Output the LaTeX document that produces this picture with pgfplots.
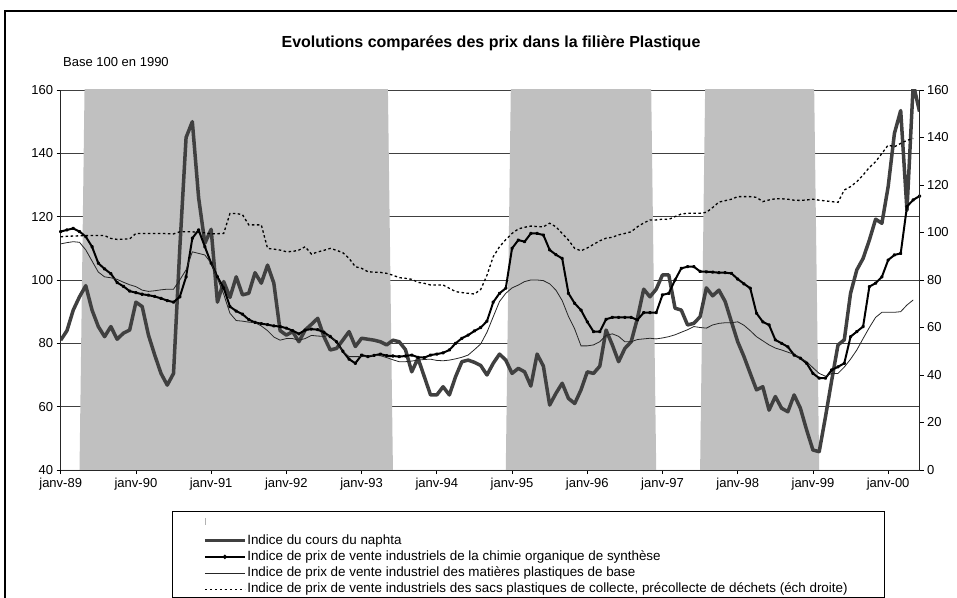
\documentclass[border=0pt]{standalone}
\usepackage{fontspec}
\setmainfont{Liberation Sans}
\usepackage{pgfplots}
\pgfplotsset{compat=1.18}
\usepackage{pgfplotstable}
\definecolor{shade}{HTML}{C0C0C0}
\definecolor{naph}{HTML}{404040}

\pgfplotstableread{
m naph chem plast sacs shade
0 81 115.3 111.4 98.2 0
1 84 115.8 111.8 98.4 0
2 90.5 116.3 112.1 98.5 0
3 94.7 115.3 111.9 98.6 0
4 98.2 113.7 109.5 98.7 200
5 90.5 110.5 106 98.7 200
6 85.3 105.3 102.5 98.7 200
7 82.1 103.5 101 98.7 200
8 85.3 102 100.7 97.5 200
9 81.3 99.2 100.2 97.1 200
10 83.2 98 99.3 97.2 200
11 84.2 96.5 98.5 97.3 200
12 93 96 97.9 99.6 200
13 91.6 95.5 96.8 99.6 200
14 82.6 95.2 96.4 99.6 200
15 76.3 94.8 96.6 99.6 200
16 70.5 94.2 96.9 99.6 200
17 66.8 93.5 97.1 99.5 200
18 70.5 93 97.1 99.4 200
19 110 94.7 100 100.3 200
20 145 101 103.2 100.3 200
21 150 113.2 108.9 100.3 200
22 126 115.8 108.4 100 200
23 111.6 110.5 107.9 99.9 200
24 116 105.3 105.3 99.4 200
25 93 101 100.5 99.5 200
26 99.5 97.5 95.5 99.6 200
27 94.5 91.6 89.5 108 200
28 101 90.2 87.2 108 200
29 95.3 89.2 87 107.5 200
30 95.8 87.5 86.7 103.2 200
31 102.3 86.6 86.5 103.2 200
32 99 86.2 85.5 103.2 200
33 104.7 85.9 84 93.3 200
34 99 85.5 82 93 200
35 84 85.3 81 92.6 200
36 82.6 84.8 81.5 91.9 200
37 83.7 84 81.5 92 200
38 80.5 83 81 92.6 200
39 84.2 84.2 81.5 94 200
40 86 84.5 82.5 90.9 200
41 87.9 84.3 82.3 91.8 200
42 82.1 83.5 82.2 92.5 200
43 77.9 82.1 82.6 93.3 200
44 78.4 80.5 80.2 92.5 200
45 81 77.5 77.5 91.5 200
46 83.7 75 75.8 89.1 200
47 79 73.7 75.8 85.6 200
48 81.6 76.3 75.8 84.9 200
49 81.3 75.8 76 83.5 200
50 81 76.2 76.2 83.3 200
51 80.5 76.6 76.1 83.2 200
52 79.5 76.1 75.5 82.8 200
53 81 76 74.8 82 0
54 80.5 75.8 74.2 81 0
55 78 76 74.2 80.7 0
56 71 76.3 74.4 80.3 0
57 75.3 75.6 74.7 79 0
58 69.5 75.5 74.9 78.6 0
59 63.7 76.3 75 77.9 0
60 63.7 76.6 74.6 77.9 0
61 66.3 77 74.5 77.9 0
62 63.7 77.9 74.7 76.5 0
63 69.5 80 75.1 75.1 0
64 74.2 81.6 75.6 74.7 0
65 74.7 82.6 76.3 74.4 0
66 74 83.9 78 74.1 0
67 73 85 79.8 76 0
68 70 87 83.5 82 0
69 73.7 93 88.4 89.8 0
70 76.6 95.8 93.2 94 0
71 74.7 97.4 95.8 97 0
72 70.5 110 97.5 99.6 200
73 72.1 112.6 98.4 101.5 200
74 71 112.1 99.5 102.2 200
75 66.5 114.7 100 102.7 200
76 76.6 114.7 100 102.5 200
77 72.8 114.2 99.8 102.4 200
78 60.5 109.5 98.8 103.9 200
79 64.2 108 96.8 102.4 200
80 67.4 106.8 93.5 99.6 200
81 62.6 95.8 88.5 96.8 200
82 61 92.6 84.5 93.3 200
83 65.3 90.5 79.2 92.3 200
84 71 86.8 79.2 93.5 200
85 70.5 83.7 79.5 95 200
86 72.8 83.7 80.5 96.5 200
87 84.2 87.6 82.5 97.6 200
88 79.5 88.2 83 98 200
89 74.2 88.2 82.2 99 200
90 78.4 88.2 80.5 99.6 200
91 80.5 88.2 80.5 100.3 200
92 87.9 87.4 81.2 102.4 200
93 97.1 89.7 81.4 104 200
94 94.7 89.7 81.6 105.3 200
95 97.1 89.7 81.4 105.3 0
96 101.6 95.3 81.7 105.6 0
97 101.6 95.8 82.1 105.5 0
98 91.1 100 82.7 106.7 0
99 90.5 103.7 83.5 107.8 0
100 85.8 104.2 84.3 108.1 0
101 86.3 104.2 85.3 108.1 0
102 88.4 102.7 85 108.1 0
103 97.5 102.6 84.8 108.5 200
104 95 102.5 85.8 110.5 200
105 96.8 102.3 86.3 112.8 200
106 93.2 102.3 86.5 113.4 200
107 86.8 102.1 86.5 114 200
108 80.5 100.3 86.8 115.1 200
109 75.8 98.8 85.7 115.1 200
110 70.5 97.4 84 115.1 200
111 65.3 89.5 82.1 114.8 200
112 66.3 86.8 80.8 113 200
113 58.9 85.8 79.5 113.7 200
114 63.2 81.1 78.5 114.2 200
115 59.5 80 77.9 114.2 200
116 58.4 78.9 77.2 114 200
117 63.7 76.3 76.5 113.6 200
118 59.5 75.3 75.4 113.5 200
119 52.6 73.7 74.2 113.7 200
120 46.3 70.5 72.3 114 200
121 45.8 69 70.5 113.6 0
122 56.8 69 69.6 113.3 0
123 68.4 71.6 70.5 113 0
124 79.5 72.6 70.5 112.7 0
125 81.1 73.7 72.5 117.9 0
126 95.8 82.1 75 119.3 0
127 103.2 83.7 77.9 121.4 0
128 106.8 85.3 81.5 124.2 0
129 112.6 97.9 85 127.4 0
130 119.2 99 88.2 129.8 0
131 117.9 101 89.8 133.3 0
132 129.5 106.3 89.8 136.8 0
133 146.3 107.9 89.8 136.1 0
134 153.5 108.4 90 137.5 0
135 122 123.2 92.1 138.8 0
136 162 125.3 93.7 139.6 0
137 153.2 126.5 nan nan 0
}\data

\begin{document}
\begin{tikzpicture}
\path[use as bounding box] (0bp,0bp) rectangle (957bp,598bp);
\pgfplotsset{base/.style={scale only axis, width=858.8bp, height=380bp,
  at={(60.7bp,128bp)}, anchor=south west, xmin=0, xmax=137}}
% grid
\begin{axis}[base, ymin=40, ymax=160, ytick={40,60,...,160}, xtick=\empty,
  yticklabels={}, ymajorgrids, major grid style={black!75, line width=0.8bp},
  axis line style={draw=none}, major tick length=0pt]
\end{axis}
% shading
\begin{axis}[base, ymin=0, ymax=160, hide axis]
\addplot[fill=shade, draw=none] table[x=m, y=shade] {\data} \closedcycle;
\end{axis}
% main left axis
\begin{axis}[base, ymin=40, ymax=160, axis lines*=left,
  ytick={40,60,...,160}, xtick={0,12,...,132},
  xticklabels={janv-89,janv-90,janv-91,janv-92,janv-93,janv-94,janv-95,janv-96,janv-97,janv-98,janv-99,janv-00},
  tick align=outside, major tick length=4bp,
  tick style={black, line width=0.8bp},
  axis line style={black!85, line width=1bp},
  tick label style={font=\fontsize{13bp}{15bp}\selectfont},
  xticklabel style={yshift=-1bp},
  /pgf/number format/assume math mode=true,
  legend style={draw=none, fill=none, at={(axis description cs:0.1657,-0.1665)},
    anchor=north west, font=\fontsize{13.4bp}{15bp}\selectfont,
    row sep=1.8bp, inner sep=0pt,
    nodes={inner ysep=1bp, inner xsep=0.6bp, text height=9.6bp, text depth=2.8bp}},
  legend cell align=left,
  legend image code/.code={\draw[mark repeat=2,mark phase=2,#1] plot coordinates {(0bp,0bp) (20bp,0bp) (40bp,0bp)};}]
\addplot[naph, line width=3.5bp, line join=round, forget plot] table[x=m, y=naph] {\data};
\addplot[black, line width=2bp, line join=round, mark=*, mark size=0.8bp, forget plot] table[x=m, y=chem] {\data};
\addplot[black!85, line width=0.8bp, forget plot] table[x=m, y=plast] {\data};
\addlegendimage{naph, line width=3.5bp}
\addlegendentry{Indice du cours du naphta}
\addlegendimage{black, line width=2bp, mark=*, mark size=1bp}
\addlegendentry{Indice de prix de vente industriels de la chimie organique de synthèse}
\addlegendimage{black!85, line width=0.8bp}
\addlegendentry{Indice de prix de vente industriel des matières plastiques de base}
\addlegendimage{black, line width=1.3bp, dash pattern=on 2.5bp off 2.5bp}
\addlegendentry{Indice de prix de vente industriels des sacs plastiques de collecte, précollecte de déchets (éch droite)}
\end{axis}
% right axis
\begin{axis}[base, ymin=0, ymax=160, axis y line*=right, axis x line=none,
  ytick={0,20,...,160}, tick align=outside, major tick length=4bp,
  tick style={black, line width=0.8bp},
  axis line style={black!85, line width=1bp},
  tick label style={font=\fontsize{13bp}{15bp}\selectfont},
  /pgf/number format/assume math mode=true]
\addplot[black, line width=1.3bp, dash pattern=on 2.5bp off 2.5bp] table[x=m, y=sacs] {\data};
\end{axis}
\node[font=\bfseries\fontsize{16bp}{18bp}\selectfont] at (491bp,555bp) {Evolutions comparées des prix dans la filière Plastique};
\node[anchor=west, inner sep=0pt, font=\fontsize{13bp}{15bp}\selectfont] at (63bp,536bp) {Base 100 en 1990};
\draw[line width=1.5bp] (5bp,-10bp) -- (5bp,587bp) -- (970bp,587bp);
\draw[line width=1bp] (172bp,1bp) rectangle (884bp,86bp);
\draw[black!30, line width=0.6bp] (205bp,73bp) -- (205bp,80bp);
\end{tikzpicture}
\end{document}
